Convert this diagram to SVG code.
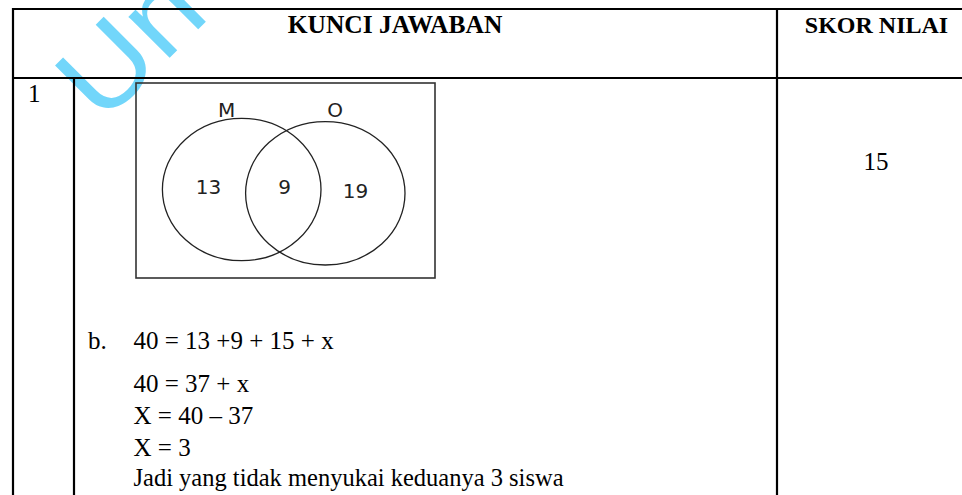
<svg xmlns="http://www.w3.org/2000/svg" width="962" height="495" viewBox="0 0 962 495">
<style>
.wm{font-family:"Liberation Sans",Arial,sans-serif;font-size:110px;fill:#72D6FA}
.grid{stroke:#000;stroke-width:2.2;fill:none}
.hd{font-family:"Liberation Serif","Times New Roman",serif;font-size:24px;font-weight:bold;fill:#000}
.tx{font-family:"Liberation Serif","Times New Roman",serif;font-size:25px;fill:#000}
.vbox{fill:none;stroke:#333;stroke-width:1.6}
.vc{fill:none;stroke:#222;stroke-width:1.3}
.vl{font-family:"DejaVu Sans",Verdana,sans-serif;font-size:20px;fill:#222}
</style>
<rect width="962" height="495" fill="#fff"/>
<g id="watermark"><text class="wm" transform="translate(101.9 125.5) rotate(-45) scale(1.1 1)">Un</text></g>
<g id="table">
<line class="grid" x1="13" y1="9" x2="962" y2="9"/>
<line class="grid" x1="13" y1="78" x2="962" y2="78"/>
<line class="grid" x1="13" y1="8" x2="13" y2="495"/>
<line class="grid" x1="74" y1="78" x2="74" y2="495"/>
<line class="grid" x1="777" y1="8" x2="777" y2="495"/>
</g>
<g id="header">
<text class="hd" x="395" y="33" text-anchor="middle" style="font-size:25.5px">KUNCI JAWABAN</text>
<text class="hd" x="876.5" y="33" text-anchor="middle">SKOR NILAI</text>
</g>
<g id="row-number"><text class="tx" x="28" y="102">1</text></g>
<g id="venn">
<rect class="vbox" x="136" y="83" width="299" height="195"/>
<ellipse class="vc" cx="241.7" cy="189.5" rx="79.3" ry="71.2"/>
<ellipse class="vc" cx="325.3" cy="193.3" rx="79.7" ry="71.7"/>
<text class="vl" x="226.7" y="117" text-anchor="middle">M</text>
<text class="vl" x="335" y="117" text-anchor="middle">O</text>
<text class="vl" x="208.5" y="194" text-anchor="middle">13</text>
<text class="vl" x="284.7" y="193.5" text-anchor="middle">9</text>
<text class="vl" x="355.5" y="197.5" text-anchor="middle">19</text>
</g>
<g id="answer">
<text class="tx" x="88" y="349">b.</text>
<text class="tx" x="133.5" y="349">40 = 13 +9 + 15 + x</text>
<text class="tx" x="133.5" y="391.5">40 = 37 + x</text>
<text class="tx" x="133.5" y="423.5">X = 40 – 37</text>
<text class="tx" x="133.5" y="456">X = 3</text>
<text class="tx" x="133.5" y="486" style="font-size:24.5px">Jadi yang tidak menyukai keduanya 3 siswa</text>
</g>
<g id="score"><text class="tx" x="876" y="169.5" text-anchor="middle">15</text></g>
</svg>
